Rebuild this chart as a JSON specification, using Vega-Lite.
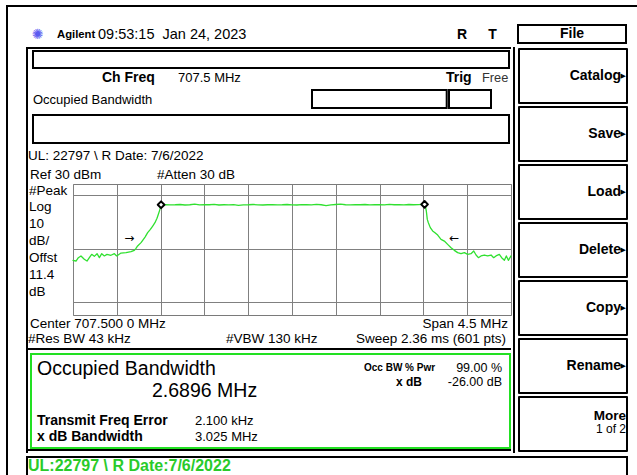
{
"$schema": "https://vega.github.io/schema/vega-lite/v6.json",
"background": "white",
"padding": {"left": 6, "top": 5, "right": 0, "bottom": 0},
"data": {"values": [{}]},
"config": {"view": {"stroke": null}, "text": {"font": "Liberation Sans", "fontSize": 13.5, "baseline": "middle", "color": "black"}, "axis": {"minExtent": 0, "maxExtent": 0, "offset": 0, "labelPadding": 0, "tickSize": 0, "titlePadding": 0}},
"spacing": 0,
"vconcat": [
 {"width": 631, "height": 2, "data": {"values": []}, "mark": "text", "encoding": {"text": {"value": ""}}, "view": {"fill": "black"}},
 {"spacing": 0, "hconcat": [
  {"width": 2, "height": 470, "data": {"values": []}, "mark": "text", "encoding": {"text": {"value": ""}}, "view": {"fill": "black"}},
  {"width": 18, "height": 1, "data": {"values": []}, "mark": "text", "encoding": {"text": {"value": ""}}},
  {"spacing": 0, "vconcat": [
   {"width": 1, "height": 17, "data": {"values": []}, "mark": "text", "encoding": {"text": {"value": ""}}},
   {"spacing": 0, "hconcat": [
    {"width": 5, "height": 20, "data": {"values": []}, "mark": "text", "encoding": {"text": {"value": ""}}},
    {"width": 13, "height": 20, "mark": {"type": "text", "font": "DejaVu Sans", "fontSize": 14, "color": "#5b5bf0"}, "encoding": {"text": {"value": "✺"}}},
    {"width": 12.7, "height": 20, "data": {"values": []}, "mark": "text", "encoding": {"text": {"value": ""}}},
    {"width": 40.3, "height": 20, "mark": {"type": "text", "align": "left", "fontSize": 11.3, "fontWeight": "bold"}, "encoding": {"x": {"value": 0}, "text": {"value": "Agilent"}}},
    {"width": 358, "height": 20, "mark": {"type": "text", "align": "left", "fontSize": 14.5}, "encoding": {"x": {"value": 0}, "text": {"value": "09:53:15\u00a0\u00a0Jan 24, 2023"}}},
    {"width": 12, "height": 20, "mark": {"type": "text", "fontSize": 14, "fontWeight": "bold"}, "encoding": {"text": {"value": "R"}}},
    {"width": 19, "height": 20, "data": {"values": []}, "mark": "text", "encoding": {"text": {"value": ""}}},
    {"width": 11, "height": 20, "mark": {"type": "text", "fontSize": 14, "fontWeight": "bold"}, "encoding": {"text": {"value": "T"}}},
    {"width": 19, "height": 20, "data": {"values": []}, "mark": "text", "encoding": {"text": {"value": ""}}},
    {"width": 108, "height": 18, "view": {"stroke": "black", "strokeWidth": 2}, "mark": {"type": "text", "fontWeight": "bold", "fontSize": 14}, "encoding": {"text": {"value": "File"}}}
   ]},
   {"width": 1, "height": 2, "data": {"values": []}, "mark": "text", "encoding": {"text": {"value": ""}}},
   {"spacing": 0, "hconcat": [
    {"width": 2, "height": 406, "data": {"values": []}, "mark": "text", "encoding": {"text": {"value": ""}}, "view": {"fill": "black"}},
    {"spacing": 0, "vconcat": [
     {"width": 483, "height": 2, "data": {"values": []}, "mark": "text", "encoding": {"text": {"value": ""}}, "view": {"fill": "black"}},
     {"spacing": 0, "hconcat": [
      {"width": 4, "height": 1, "data": {"values": []}, "mark": "text", "encoding": {"text": {"value": ""}}},
      {"spacing": 0, "vconcat": [
       {"width": 1, "height": 1, "data": {"values": []}, "mark": "text", "encoding": {"text": {"value": ""}}},
       {"width": 476, "height": 17, "data": {"values": []}, "mark": "text", "encoding": {"text": {"value": ""}}, "view": {"stroke": "black", "strokeWidth": 2}},
       {"spacing": 0, "hconcat": [
        {"width": 68.7, "height": 17, "data": {"values": []}, "mark": "text", "encoding": {"text": {"value": ""}}},
        {"width": 75.3, "height": 17, "mark": {"type": "text", "align": "left", "fontSize": 14, "fontWeight": "bold"}, "encoding": {"x": {"value": 0}, "text": {"value": "Ch Freq"}}},
        {"width": 267.3, "height": 17, "mark": {"type": "text", "align": "left", "fontSize": 13}, "encoding": {"x": {"value": 0}, "text": {"value": "707.5 MHz"}}},
        {"width": 35.7, "height": 17, "mark": {"type": "text", "align": "left", "fontSize": 14, "fontWeight": "bold"}, "encoding": {"x": {"value": 0}, "text": {"value": "Trig"}}},
        {"width": 31, "height": 17, "mark": {"type": "text", "align": "left", "fontSize": 12.8, "color": "#333333"}, "encoding": {"x": {"value": 0}, "text": {"value": "Free"}}}
       ]},
       {"width": 1, "height": 3, "data": {"values": []}, "mark": "text", "encoding": {"text": {"value": ""}}},
       {"spacing": 0, "hconcat": [
        {"width": 278, "height": 20, "mark": {"type": "text", "align": "left", "fontSize": 13}, "encoding": {"x": {"value": 0}, "text": {"value": "Occupied Bandwidth"}}},
        {"width": 134.7, "height": 18, "data": {"values": []}, "mark": "text", "encoding": {"text": {"value": ""}}, "view": {"stroke": "black", "strokeWidth": 2}},
        {"width": 42, "height": 18, "data": {"values": []}, "mark": "text", "encoding": {"text": {"value": ""}}, "view": {"stroke": "black", "strokeWidth": 2}}
       ]},
       {"width": 1, "height": 4, "data": {"values": []}, "mark": "text", "encoding": {"text": {"value": ""}}},
       {"width": 476, "height": 28, "data": {"values": []}, "mark": "text", "encoding": {"text": {"value": ""}}, "view": {"stroke": "black", "strokeWidth": 2}}
      ]}
     ]},
     {"width": 1, "height": 1.5, "data": {"values": []}, "mark": "text", "encoding": {"text": {"value": ""}}},
     {"width": 483, "height": 19, "mark": {"type": "text", "align": "left"}, "encoding": {"x": {"value": 0}, "text": {"value": "UL: 22797 \\ R Date: 7/6/2022"}}},
     {"width": 1, "height": 2.5, "data": {"values": []}, "mark": "text", "encoding": {"text": {"value": ""}}},
     {"spacing": 0, "hconcat": [
      {"width": 2, "height": 14.4, "data": {"values": []}, "mark": "text", "encoding": {"text": {"value": ""}}},
      {"width": 127, "height": 14.4, "mark": {"type": "text", "align": "left"}, "encoding": {"x": {"value": 0}, "text": {"value": "Ref 30 dBm"}}},
      {"width": 354, "height": 14.4, "mark": {"type": "text", "align": "left"}, "encoding": {"x": {"value": 0}, "text": {"value": "#Atten 30 dB"}}}
     ]},
     {"spacing": 0, "hconcat": [
      {"width": 1, "height": 1, "data": {"values": []}, "mark": "text", "encoding": {"text": {"value": ""}}},
      {"spacing": 0, "vconcat": [
       {"width": 42, "height": 14.5, "mark": {"type": "text", "align": "left"}, "encoding": {"x": {"value": 0}, "text": {"value": "#Peak"}}},
       {"width": 42, "height": 16.8, "mark": {"type": "text", "align": "left"}, "encoding": {"x": {"value": 0}, "text": {"value": "Log"}}},
       {"width": 42, "height": 16.8, "mark": {"type": "text", "align": "left"}, "encoding": {"x": {"value": 0}, "text": {"value": "10"}}},
       {"width": 42, "height": 16.8, "mark": {"type": "text", "align": "left"}, "encoding": {"x": {"value": 0}, "text": {"value": "dB/"}}},
       {"width": 42, "height": 16.8, "mark": {"type": "text", "align": "left"}, "encoding": {"x": {"value": 0}, "text": {"value": "Offst"}}},
       {"width": 42, "height": 16.8, "mark": {"type": "text", "align": "left"}, "encoding": {"x": {"value": 0}, "text": {"value": "11.4"}}},
       {"width": 42, "height": 16.8, "mark": {"type": "text", "align": "left"}, "encoding": {"x": {"value": 0}, "text": {"value": "dB"}}}
      ]},
      {"width": 438, "height": 131,
       "view": {"stroke": "#7a7a7a", "strokeWidth": 1},
       "layer": [
        {"data": {"values": [
         {"f": 705.25, "dbm": -28.9}, {"f": 705.281, "dbm": -29.4}, {"f": 705.305, "dbm": -26.9}, {"f": 705.332, "dbm": -25.6}, {"f": 705.366, "dbm": -28.1}, {"f": 705.394, "dbm": -29.4}, {"f": 705.418, "dbm": -26.9}, {"f": 705.442, "dbm": -24.4}, {"f": 705.469, "dbm": -25.9}, {"f": 705.497, "dbm": -23.9}, {"f": 705.521, "dbm": -26.9}, {"f": 705.545, "dbm": -23.9}, {"f": 705.572, "dbm": -25.6}, {"f": 705.599, "dbm": -24.4}, {"f": 705.64, "dbm": -25.1}, {"f": 705.675, "dbm": -23.9}, {"f": 705.699, "dbm": -25.6}, {"f": 705.743, "dbm": -23.4}, {"f": 705.795, "dbm": -23.1}, {"f": 705.846, "dbm": -22.4}, {"f": 705.88, "dbm": -21.4}, {"f": 705.897, "dbm": -19.9}, {"f": 705.914, "dbm": -18.1}, {"f": 705.949, "dbm": -15.6}, {"f": 705.966, "dbm": -13.9}, {"f": 705.99, "dbm": -11.4}, {"f": 706.017, "dbm": -8.1}, {"f": 706.045, "dbm": -5.6}, {"f": 706.069, "dbm": -3.1}, {"f": 706.092, "dbm": -0.6}, {"f": 706.113, "dbm": 2.7}, {"f": 706.127, "dbm": 5.7}, {"f": 706.14, "dbm": 8.7}, {"f": 706.154, "dbm": 12.3},
         {"f": 706.2, "dbm": 13.0}, {"f": 706.25, "dbm": 12.8}, {"f": 706.3, "dbm": 12.9}, {"f": 706.35, "dbm": 13.1}, {"f": 706.4, "dbm": 12.7}, {"f": 706.45, "dbm": 12.9}, {"f": 706.5, "dbm": 13.4}, {"f": 706.55, "dbm": 12.8}, {"f": 706.6, "dbm": 13.0}, {"f": 706.65, "dbm": 12.9}, {"f": 706.7, "dbm": 13.2}, {"f": 706.75, "dbm": 12.7}, {"f": 706.8, "dbm": 12.9}, {"f": 706.85, "dbm": 12.8}, {"f": 706.9, "dbm": 13.0}, {"f": 706.95, "dbm": 12.4}, {"f": 707.0, "dbm": 12.8}, {"f": 707.05, "dbm": 12.9}, {"f": 707.1, "dbm": 13.1}, {"f": 707.15, "dbm": 12.8}, {"f": 707.2, "dbm": 12.7}, {"f": 707.25, "dbm": 12.9}, {"f": 707.3, "dbm": 13.0}, {"f": 707.35, "dbm": 12.8}, {"f": 707.4, "dbm": 12.9}, {"f": 707.45, "dbm": 13.1}, {"f": 707.5, "dbm": 12.8}, {"f": 707.55, "dbm": 12.7}, {"f": 707.6, "dbm": 13.0}, {"f": 707.65, "dbm": 12.9}, {"f": 707.7, "dbm": 12.8}, {"f": 707.75, "dbm": 13.2}, {"f": 707.8, "dbm": 12.9}, {"f": 707.85, "dbm": 12.3}, {"f": 707.9, "dbm": 12.8}, {"f": 707.95, "dbm": 13.1}, {"f": 708.0, "dbm": 13.3}, {"f": 708.05, "dbm": 12.9}, {"f": 708.1, "dbm": 12.8}, {"f": 708.15, "dbm": 13.0}, {"f": 708.2, "dbm": 12.9}, {"f": 708.25, "dbm": 13.1}, {"f": 708.3, "dbm": 12.8}, {"f": 708.35, "dbm": 12.9}, {"f": 708.4, "dbm": 13.0}, {"f": 708.45, "dbm": 12.8}, {"f": 708.5, "dbm": 13.2}, {"f": 708.55, "dbm": 12.9}, {"f": 708.6, "dbm": 13.0}, {"f": 708.65, "dbm": 12.8}, {"f": 708.7, "dbm": 13.1}, {"f": 708.75, "dbm": 12.9}, {"f": 708.8, "dbm": 13.0}, {"f": 708.84, "dbm": 13.2},
         {"f": 708.866, "dbm": 13.2}, {"f": 708.88, "dbm": 8.2}, {"f": 708.89, "dbm": 1.9}, {"f": 708.901, "dbm": -0.6}, {"f": 708.921, "dbm": -4.3}, {"f": 708.945, "dbm": -6.8}, {"f": 708.969, "dbm": -8.1}, {"f": 708.997, "dbm": -9.9}, {"f": 709.031, "dbm": -13.1}, {"f": 709.065, "dbm": -14.4}, {"f": 709.099, "dbm": -16.9}, {"f": 709.134, "dbm": -19.4}, {"f": 709.168, "dbm": -21.4}, {"f": 709.202, "dbm": -23.1}, {"f": 709.236, "dbm": -23.9}, {"f": 709.271, "dbm": -23.1}, {"f": 709.305, "dbm": -24.4}, {"f": 709.339, "dbm": -23.9}, {"f": 709.367, "dbm": -21.9}, {"f": 709.391, "dbm": -24.9}, {"f": 709.415, "dbm": -26.9}, {"f": 709.442, "dbm": -25.6}, {"f": 709.476, "dbm": -24.9}, {"f": 709.51, "dbm": -25.6}, {"f": 709.545, "dbm": -24.9}, {"f": 709.572, "dbm": -26.9}, {"f": 709.596, "dbm": -25.6}, {"f": 709.63, "dbm": -24.4}, {"f": 709.654, "dbm": -26.9}, {"f": 709.682, "dbm": -28.9}, {"f": 709.702, "dbm": -25.6}, {"f": 709.723, "dbm": -28.9}, {"f": 709.75, "dbm": -25.6}
        ]},
         "mark": {"type": "line", "color": "#30e030", "strokeWidth": 1.3, "strokeJoin": "round", "strokeCap": "round"},
         "encoding": {
          "x": {"field": "f", "type": "quantitative", "scale": {"domain": [705.25, 709.75], "nice": false, "zero": false},
           "axis": {"values": [705.25, 705.7, 706.15, 706.6, 707.05, 707.5, 707.95, 708.4, 708.85, 709.3, 709.75], "grid": true, "gridColor": "#808080", "gridWidth": 1, "gridOpacity": 1, "ticks": false, "labels": false, "domain": false, "title": null, "minExtent": 0, "maxExtent": 0}},
          "y": {"field": "dbm", "type": "quantitative", "scale": {"domain": [-70, 28.5], "nice": false, "zero": false},
           "axis": {"values": [-60, -50, -40, -30, -20, -10, 0, 10, 20], "grid": true, "gridColor": "#808080", "gridWidth": 1, "gridOpacity": 1, "ticks": false, "labels": false, "domain": false, "title": null, "minExtent": 0, "maxExtent": 0}}
         }},
        {"data": {"values": [{"f": 706.155, "dbm": 12.9}, {"f": 708.862, "dbm": 13.2}]},
         "mark": {"type": "point", "shape": "diamond", "filled": true, "fill": "white", "stroke": "black", "strokeWidth": 2, "strokeJoin": "round", "size": 45, "opacity": 1},
         "encoding": {"x": {"field": "f", "type": "quantitative"}, "y": {"field": "dbm", "type": "quantitative"}}},
        {"data": {"values": [{"f": 705.828, "dbm": -12.3, "sym": "→"}, {"f": 709.167, "dbm": -12.3, "sym": "←"}]},
         "mark": {"type": "text", "font": "DejaVu Sans", "fontSize": 12},
         "encoding": {"x": {"field": "f", "type": "quantitative"}, "y": {"field": "dbm", "type": "quantitative"}, "text": {"field": "sym"}}}
       ]}
     ]},
     {"spacing": 0, "hconcat": [
      {"width": 2, "height": 15, "data": {"values": []}, "mark": "text", "encoding": {"text": {"value": ""}}},
      {"width": 270, "height": 15, "mark": {"type": "text", "align": "left"}, "encoding": {"x": {"value": 0}, "text": {"value": "Center 707.500 0 MHz"}}},
      {"width": 208, "height": 15, "mark": {"type": "text", "align": "right"}, "encoding": {"x": {"value": "width"}, "text": {"value": "Span 4.5 MHz"}}}
     ]},
     {"spacing": 0, "hconcat": [
      {"width": 198, "height": 15, "mark": {"type": "text", "align": "left"}, "encoding": {"x": {"value": 0}, "text": {"value": "#Res BW 43 kHz"}}},
      {"width": 114, "height": 15, "mark": {"type": "text", "align": "left"}, "encoding": {"x": {"value": 0}, "text": {"value": "#VBW 130 kHz"}}},
      {"width": 166, "height": 15, "mark": {"type": "text", "align": "right"}, "encoding": {"x": {"value": "width"}, "text": {"value": "Sweep 2.36 ms (601 pts)"}}}
     ]},
     {"width": 1, "height": 1.5, "data": {"values": []}, "mark": "text", "encoding": {"text": {"value": ""}}},
     {"width": 483, "height": 2, "data": {"values": []}, "mark": "text", "encoding": {"text": {"value": ""}}, "view": {"fill": "black"}},
     {"width": 1, "height": 3, "data": {"values": []}, "mark": "text", "encoding": {"text": {"value": ""}}},
     {"spacing": 0, "hconcat": [
      {"width": 2, "height": 1, "data": {"values": []}, "mark": "text", "encoding": {"text": {"value": ""}}},
      {"spacing": 0, "vconcat": [
       {"width": 481, "height": 2, "data": {"values": []}, "mark": "text", "encoding": {"text": {"value": ""}}, "view": {"fill": "#22e022"}},
       {"spacing": 0, "hconcat": [
        {"width": 2, "height": 92, "data": {"values": []}, "mark": "text", "encoding": {"text": {"value": ""}}, "view": {"fill": "#22e022"}},
        {"spacing": 0, "vconcat": [
         {"width": 1, "height": 3, "data": {"values": []}, "mark": "text", "encoding": {"text": {"value": ""}}},
         {"spacing": 0, "hconcat": [
          {"width": 5, "height": 22, "data": {"values": []}, "mark": "text", "encoding": {"text": {"value": ""}}},
          {"width": 327, "height": 22, "mark": {"type": "text", "align": "left", "fontSize": 19.5}, "encoding": {"x": {"value": 0}, "text": {"value": "Occupied Bandwidth"}}}
         ]},
         {"spacing": 0, "hconcat": [
          {"width": 120, "height": 22, "data": {"values": []}, "mark": "text", "encoding": {"text": {"value": ""}}},
          {"width": 212, "height": 22, "mark": {"type": "text", "align": "left", "fontSize": 19.5}, "encoding": {"x": {"value": 0}, "text": {"value": "2.6896 MHz"}}}
         ]},
         {"width": 1, "height": 10, "data": {"values": []}, "mark": "text", "encoding": {"text": {"value": ""}}},
         {"spacing": 0, "hconcat": [
          {"width": 5, "height": 17, "data": {"values": []}, "mark": "text", "encoding": {"text": {"value": ""}}},
          {"width": 158, "height": 17, "mark": {"type": "text", "align": "left", "fontSize": 14, "fontWeight": "bold"}, "encoding": {"x": {"value": 0}, "text": {"value": "Transmit Freq Error"}}},
          {"width": 137, "height": 17, "mark": {"type": "text", "align": "left", "fontSize": 13}, "encoding": {"x": {"value": 0}, "text": {"value": "2.100 kHz"}}}
         ]},
         {"spacing": 0, "hconcat": [
          {"width": 5, "height": 16, "data": {"values": []}, "mark": "text", "encoding": {"text": {"value": ""}}},
          {"width": 158, "height": 16, "mark": {"type": "text", "align": "left", "fontSize": 14, "fontWeight": "bold"}, "encoding": {"x": {"value": 0}, "text": {"value": "x dB Bandwidth"}}},
          {"width": 137, "height": 16, "mark": {"type": "text", "align": "left", "fontSize": 13}, "encoding": {"x": {"value": 0}, "text": {"value": "3.025 MHz"}}}
         ]}
        ]},
        {"spacing": 0, "vconcat": [
         {"width": 1, "height": 6, "data": {"values": []}, "mark": "text", "encoding": {"text": {"value": ""}}},
         {"spacing": 0, "hconcat": [
          {"width": 76, "height": 14, "mark": {"type": "text", "align": "left", "fontSize": 10, "fontWeight": "bold"}, "encoding": {"x": {"value": 0}, "text": {"value": "Occ BW % Pwr"}}},
          {"width": 62, "height": 14, "mark": {"type": "text", "align": "right", "fontSize": 12.5}, "encoding": {"x": {"value": "width"}, "text": {"value": "99.00 %"}}},
          {"width": 7, "height": 14, "data": {"values": []}, "mark": "text", "encoding": {"text": {"value": ""}}}
         ]},
         {"spacing": 0, "hconcat": [
          {"width": 58, "height": 13, "mark": {"type": "text", "align": "right", "fontSize": 12, "fontWeight": "bold"}, "encoding": {"x": {"value": "width"}, "text": {"value": "x dB"}}},
          {"width": 80, "height": 13, "mark": {"type": "text", "align": "right", "fontSize": 12.5}, "encoding": {"x": {"value": "width"}, "text": {"value": "-26.00 dB"}}},
          {"width": 7, "height": 13, "data": {"values": []}, "mark": "text", "encoding": {"text": {"value": ""}}}
         ]}
        ]},
        {"width": 2, "height": 92, "data": {"values": []}, "mark": "text", "encoding": {"text": {"value": ""}}, "view": {"fill": "#22e022"}}
       ]},
       {"width": 481, "height": 2, "data": {"values": []}, "mark": "text", "encoding": {"text": {"value": ""}}, "view": {"fill": "#22e022"}}
      ]}
     ]},
     {"width": 483, "height": 2, "data": {"values": []}, "mark": "text", "encoding": {"text": {"value": ""}}, "view": {"fill": "black"}}
    ]},
    {"width": 2, "height": 406, "data": {"values": []}, "mark": "text", "encoding": {"text": {"value": ""}}, "view": {"fill": "black"}},
    {"width": 2.5, "height": 1, "data": {"values": []}, "mark": "text", "encoding": {"text": {"value": ""}}},
    {"width": 108, "height": 406,
     "data": {"values": [{"key": "Catalog", "sub": ""}, {"key": "Save", "sub": ""}, {"key": "Load", "sub": ""}, {"key": "Delete", "sub": ""}, {"key": "Copy", "sub": ""}, {"key": "Rename", "sub": ""}, {"key": "More", "sub": "1 of 2"}]},
     "encoding": {"y": {"field": "key", "type": "nominal", "sort": null, "axis": null, "scale": {"paddingInner": 0.069, "paddingOuter": 0.0345}}},
     "layer": [
      {"mark": {"type": "rect", "fill": "white", "stroke": "black", "strokeWidth": 2, "strokeJoin": "round"}},
      {"transform": [{"filter": "datum.key !== 'More'"}], "mark": {"type": "text", "align": "right", "dx": -6, "fontWeight": "bold", "fontSize": 14}, "encoding": {"x": {"value": "width"}, "text": {"field": "key"}}},
      {"transform": [{"filter": "datum.key !== 'More'"}], "mark": {"type": "text", "align": "right", "dx": -1, "font": "DejaVu Sans", "fontSize": 7}, "encoding": {"x": {"value": "width"}, "text": {"value": "▶"}}},
      {"transform": [{"filter": "datum.key === 'More'"}], "mark": {"type": "text", "align": "right", "dx": -1, "dy": -8, "fontWeight": "bold", "fontSize": 13.5}, "encoding": {"x": {"value": "width"}, "text": {"field": "key"}}},
      {"transform": [{"filter": "datum.key === 'More'"}], "mark": {"type": "text", "align": "right", "dx": -1, "dy": 5, "fontSize": 12}, "encoding": {"x": {"value": "width"}, "text": {"field": "sub"}}}
     ]}
   ]},
   {"width": 1, "height": 3, "data": {"values": []}, "mark": "text", "encoding": {"text": {"value": ""}}},
   {"spacing": 0, "vconcat": [
    {"width": 602, "height": 2, "data": {"values": []}, "mark": "text", "encoding": {"text": {"value": ""}}, "view": {"fill": "black"}},
    {"spacing": 0, "hconcat": [
     {"width": 2, "height": 30, "data": {"values": []}, "mark": "text", "encoding": {"text": {"value": ""}}, "view": {"fill": "black"}},
     {"width": 598, "height": 16, "mark": {"type": "text", "align": "left", "fontSize": 16, "fontWeight": "bold", "color": "#2acb2a"}, "encoding": {"x": {"value": 0}, "text": {"value": "UL:22797 \\ R Date:7/6/2022"}}},
     {"width": 2, "height": 30, "data": {"values": []}, "mark": "text", "encoding": {"text": {"value": ""}}, "view": {"fill": "black"}}
    ]}
   ]}
  ]}
 ]}
]
}
